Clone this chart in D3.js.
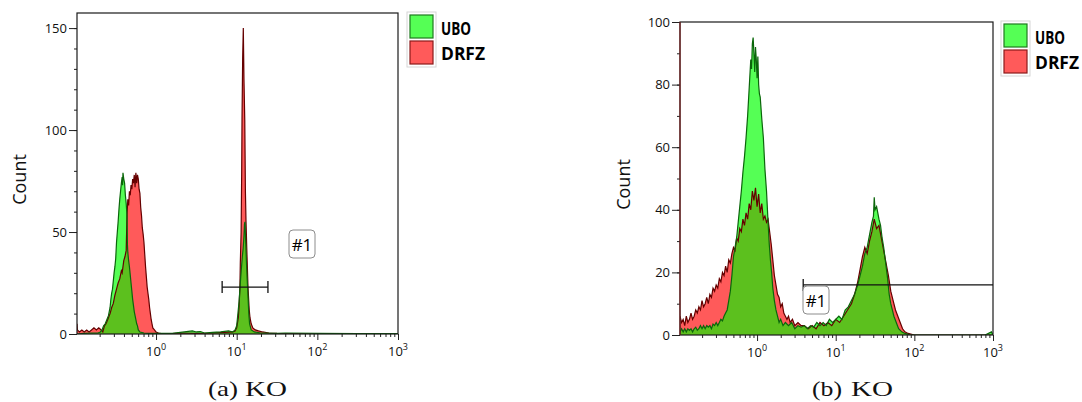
<!DOCTYPE html>
<html>
<head>
<meta charset="utf-8">
<script src="https://cdn.jsdelivr.net/npm/d3@7"></script>
<style>
  body { margin: 0; background: #fff; }
  svg { display: block; }
</style>
</head>
<body>
<div id="chart"></div>
<script>
// histogram bins: [log10 intensity, count]
const ubo_a = [
  [-0.98, 0], [-0.9, 0.3], [-0.8, 0.5], [-0.72, 0.5], [-0.69, 1], [-0.67, 2], [-0.65, 4], [-0.63, 5],
  [-0.61, 7], [-0.59, 9], [-0.57, 13], [-0.56, 17], [-0.55, 20], [-0.54, 22], [-0.53, 26], [-0.52, 30],
  [-0.51, 33], [-0.50, 37], [-0.49, 45], [-0.48, 50], [-0.47, 55], [-0.46, 61], [-0.45, 66], [-0.44, 70],
  [-0.43, 74], [-0.42, 77], [-0.415, 73], [-0.41, 79], [-0.40, 76], [-0.39, 74], [-0.38, 68], [-0.37, 64],
  [-0.36, 58], [-0.355, 44], [-0.35, 40], [-0.34, 36], [-0.33, 33], [-0.32, 29], [-0.31, 25], [-0.30, 21],
  [-0.29, 17], [-0.28, 14], [-0.27, 11], [-0.26, 9], [-0.25, 7], [-0.24, 5], [-0.23, 4], [-0.22, 2],
  [-0.20, 1], [-0.15, 0.5], [-0.1, 0.3], [0.0, 0.3], [0.2, 0.3], [0.45, 1.5], [0.5, 1], [0.55, 1.2],
  [0.6, 0.5], [0.7, 0.8], [0.8, 1], [0.9, 1.5], [0.95, 1], [0.98, 2], [1.0, 4], [1.01, 8], [1.02, 12],
  [1.03, 16], [1.04, 22], [1.05, 28], [1.06, 33], [1.07, 38], [1.08, 42], [1.09, 48], [1.097, 54],
  [1.103, 55], [1.11, 47], [1.12, 36], [1.13, 27], [1.14, 19], [1.15, 10], [1.16, 5], [1.18, 2],
  [1.22, 1], [1.3, 0.5], [1.35, 0.5], [1.5, 0.3], [1.6, 0.5], [2.0, 0.3], [2.5, 0.2], [3.0, 0.2]
];
const drfz_a = [
  [-0.98, 5], [-0.975, 2], [-0.95, 1], [-0.92, 2], [-0.89, 1], [-0.86, 2], [-0.83, 1], [-0.80, 2],
  [-0.77, 3], [-0.74, 2], [-0.71, 3], [-0.68, 2], [-0.66, 1], [-0.64, 4], [-0.62, 5], [-0.60, 7],
  [-0.58, 9], [-0.57, 10], [-0.55, 13], [-0.53, 15], [-0.51, 19], [-0.49, 22], [-0.47, 25], [-0.45, 27],
  [-0.43, 31], [-0.42, 30], [-0.40, 36], [-0.385, 38], [-0.37, 41], [-0.36, 58], [-0.35, 66], [-0.34, 63],
  [-0.33, 70], [-0.32, 68], [-0.31, 73], [-0.30, 71], [-0.29, 76], [-0.28, 74], [-0.27, 78], [-0.26, 72],
  [-0.25, 79], [-0.24, 74], [-0.23, 78], [-0.22, 76], [-0.21, 71], [-0.20, 69], [-0.19, 62], [-0.18, 58],
  [-0.17, 52], [-0.16, 49], [-0.15, 45], [-0.14, 39], [-0.13, 33], [-0.12, 28], [-0.11, 23], [-0.10, 20],
  [-0.09, 17], [-0.08, 13], [-0.07, 10], [-0.06, 7], [-0.05, 5], [-0.04, 3], [-0.02, 2], [0.0, 1],
  [0.03, 0.5], [0.1, 0], [0.3, 0.5], [0.5, 0.3], [0.7, 0.5], [0.85, 0.8], [0.95, 1], [0.98, 1.5],
  [1.0, 3], [1.02, 8], [1.03, 14], [1.04, 23], [1.045, 35], [1.055, 50], [1.062, 80], [1.066, 105],
  [1.074, 135], [1.082, 150], [1.09, 125], [1.10, 105], [1.108, 70], [1.115, 56], [1.125, 42], [1.14, 23],
  [1.155, 12], [1.165, 8], [1.18, 5], [1.2, 3], [1.23, 2], [1.27, 1.5], [1.32, 1], [1.4, 0.5],
  [1.5, 0.3], [1.7, 0.2], [2.0, 0], [3.0, 0]
];
const ubo_b = [
  [-0.98, 1], [-0.96, 2], [-0.94, 1], [-0.92, 2], [-0.90, 1], [-0.88, 2], [-0.86, 1.5], [-0.84, 2],
  [-0.82, 1], [-0.80, 2], [-0.78, 2.5], [-0.76, 1.5], [-0.74, 2], [-0.72, 3], [-0.70, 2], [-0.68, 3],
  [-0.66, 2], [-0.64, 3], [-0.62, 2.5], [-0.60, 3], [-0.58, 2], [-0.56, 3.5], [-0.54, 3], [-0.52, 4],
  [-0.50, 3], [-0.48, 4], [-0.46, 5], [-0.44, 4.5], [-0.42, 6], [-0.40, 7], [-0.38, 8], [-0.36, 11],
  [-0.34, 14], [-0.32, 19], [-0.30, 25], [-0.28, 28], [-0.26, 31], [-0.24, 36], [-0.22, 41], [-0.20, 46],
  [-0.18, 52], [-0.16, 57], [-0.14, 63], [-0.12, 70], [-0.10, 79], [-0.08, 88], [-0.07, 85], [-0.06, 93],
  [-0.05, 95], [-0.04, 90], [-0.03, 84], [-0.02, 92], [-0.01, 88], [0.0, 82], [0.01, 89], [0.02, 80],
  [0.03, 77], [0.04, 76], [0.06, 69], [0.08, 63], [0.10, 53], [0.12, 46], [0.14, 36], [0.155, 29],
  [0.17, 24], [0.185, 20], [0.20, 15], [0.22, 11], [0.24, 8], [0.26, 6], [0.28, 4], [0.30, 5],
  [0.33, 3], [0.36, 4], [0.40, 3], [0.44, 4], [0.48, 2], [0.52, 3], [0.56, 2.5], [0.60, 3],
  [0.64, 2], [0.68, 3], [0.72, 2.5], [0.76, 4], [0.80, 3], [0.84, 4], [0.88, 3], [0.92, 5],
  [0.96, 4], [1.00, 5], [1.04, 6], [1.08, 5], [1.12, 8], [1.16, 9], [1.20, 11], [1.24, 13],
  [1.28, 16], [1.31, 19], [1.34, 22], [1.37, 26], [1.40, 28], [1.43, 32], [1.46, 36], [1.48, 38],
  [1.49, 44], [1.50, 40], [1.52, 41], [1.55, 37], [1.57, 35], [1.59, 31], [1.61, 28], [1.63, 24],
  [1.66, 18], [1.68, 13], [1.70, 10], [1.72, 8], [1.74, 6], [1.77, 4], [1.80, 2], [1.84, 1],
  [1.88, 0.5], [1.95, 0], [2.9, 0], [2.98, 1], [3.0, 0]
];
const drfz_b = [
  [-0.98, 6], [-0.96, 4], [-0.94, 5], [-0.92, 3], [-0.90, 6], [-0.88, 4], [-0.86, 5], [-0.84, 7],
  [-0.82, 5], [-0.80, 6], [-0.78, 8], [-0.76, 7], [-0.74, 9], [-0.72, 8], [-0.70, 11], [-0.68, 9],
  [-0.66, 10], [-0.64, 12], [-0.62, 10], [-0.60, 13], [-0.58, 12], [-0.56, 15], [-0.54, 14], [-0.52, 16],
  [-0.50, 15], [-0.48, 18], [-0.46, 17], [-0.44, 20], [-0.42, 19], [-0.40, 22], [-0.38, 20], [-0.36, 24],
  [-0.34, 23], [-0.32, 26], [-0.30, 28], [-0.28, 27], [-0.26, 31], [-0.24, 30], [-0.22, 34], [-0.20, 33],
  [-0.18, 37], [-0.16, 35], [-0.14, 39], [-0.12, 37], [-0.10, 42], [-0.08, 40], [-0.06, 46], [-0.04, 43],
  [-0.02, 47], [0.0, 41], [0.02, 45], [0.04, 39], [0.06, 42], [0.08, 37], [0.10, 38], [0.12, 36],
  [0.14, 37], [0.16, 33], [0.18, 29], [0.20, 24], [0.22, 19], [0.24, 16], [0.26, 13], [0.28, 12],
  [0.30, 9], [0.32, 10], [0.34, 7], [0.36, 6], [0.38, 5], [0.40, 6], [0.42, 4], [0.45, 5],
  [0.48, 3], [0.52, 4], [0.56, 3], [0.60, 3], [0.65, 2], [0.70, 3], [0.75, 2], [0.80, 4],
  [0.85, 3], [0.90, 4], [0.95, 3], [1.00, 5], [1.05, 4], [1.10, 6], [1.15, 8], [1.20, 10],
  [1.24, 13], [1.28, 17], [1.31, 21], [1.34, 25], [1.37, 28], [1.40, 26], [1.43, 30], [1.46, 33],
  [1.49, 37], [1.52, 34], [1.55, 35], [1.58, 31], [1.61, 27], [1.64, 23], [1.67, 19], [1.70, 14],
  [1.73, 11], [1.76, 8], [1.79, 6], [1.82, 4], [1.85, 2], [1.88, 1], [1.92, 0.5], [2.0, 0], [3.0, 0]
];

const seriesNames = ["UBO", "DRFZ"];
const decadeExponents = [0, 1, 2, 3];       // x tick labels 10^n
const yMajorA = [0, 50, 100, 150];
const yMajorB = [0, 20, 40, 60, 80, 100];
const gateA = [6.6, 24.4, 23];              // [from, to, count level]
const gateB = [3.86, 1000, 16];
const gateLabel = "#1";
const captionTags = ["(a)", "(b)"];
const captionText = "KO";

const W = 1082, H = 402;
const XMIN = Math.pow(10, -0.98), XMAX = 1000;

const FILL_GREEN = "#55ff55", FILL_RED = "#ff5a5a", FILL_BOTH = "#5cc01e";
const LINE_GREEN = "#0b660b", LINE_RED = "#650000";

var svg = d3.select("#chart").append("svg")
  .attr("width", W)
  .attr("height", H);

function drawPanel(cfg) {
  const x = d3.scaleLog().domain([XMIN, XMAX]).range([cfg.left, cfg.right]);
  const y = d3.scaleLinear().domain([0, cfg.yMax]).range([cfg.bottom, cfg.top]);
  const g = svg.append("g");

  // clip to the plot box
  g.append("clipPath").attr("id", "box" + cfg.id)
    .append("rect")
      .attr("x", cfg.left).attr("y", cfg.top)
      .attr("width", cfg.right - cfg.left).attr("height", cfg.bottom - cfg.top);

  const area = d3.area()
    .x(d => x(Math.pow(10, d[0])))
    .y0(y(0))
    .y1(d => y(d[1]));
  const line = d3.line()
    .x(d => x(Math.pow(10, d[0])))
    .y(d => y(d[1]));

  // red area used as clip for the overlap colour
  g.append("clipPath").attr("id", "red" + cfg.id)
    .append("path").attr("d", area(cfg.red));

  const plot = g.append("g").attr("clip-path", "url(#box" + cfg.id + ")");
  plot.append("path").attr("d", area(cfg.red)).attr("fill", FILL_RED);
  plot.append("path").attr("d", area(cfg.green)).attr("fill", FILL_GREEN);
  plot.append("path").attr("d", area(cfg.green)).attr("fill", FILL_BOTH)
    .attr("clip-path", "url(#red" + cfg.id + ")"); // overlap = min of both
  plot.append("path").attr("d", line(cfg.red))
    .attr("fill", "none").attr("stroke", LINE_RED).attr("stroke-width", 1.2);
  plot.append("path").attr("d", line(cfg.green))
    .attr("fill", "none").attr("stroke", LINE_GREEN).attr("stroke-width", 1.2);

  // y axis ticks: labelled majors + minor every 10
  const yAxis = g.append("g").attr("transform", "translate(" + cfg.left + ",0)");
  yAxis.call(d3.axisLeft(y).tickValues(d3.range(0, cfg.yMax + 0.1, 10)).tickSize(3).tickFormat(""))
    .call(a => a.select(".domain").remove());
  yAxis.append("g")
    .call(d3.axisLeft(y).tickValues(cfg.yMajor).tickSize(8).tickPadding(2))
    .call(a => a.select(".domain").remove())
    .selectAll("text")
      .attr("font-family", "'Open Sans', sans-serif")
      .attr("font-size", 13)
      .attr("fill", "#111");
  yAxis.selectAll("line").attr("stroke", "#222");

  // x axis: minor 2..9 in each decade, majors at decades
  const minors = [];
  for (let e = -1; e < 3; e++) for (let k = 2; k <= 9; k++) {
    const v = k * Math.pow(10, e);
    if (v > XMIN) minors.push(v);
  }
  const xAxis = g.append("g").attr("transform", "translate(0," + cfg.bottom + ")");
  xAxis.call(d3.axisBottom(x).tickValues(minors).tickSize(3).tickFormat(""))
    .call(a => a.select(".domain").remove());
  xAxis.append("g")
    .call(d3.axisBottom(x).tickValues(decadeExponents.map(e => Math.pow(10, e))).tickSize(6).tickFormat(""))
    .call(a => a.select(".domain").remove());
  xAxis.selectAll("line").attr("stroke", "#222");

  const lbl = g.append("g").selectAll("text")
    .data(decadeExponents)
    .join("text")
      .attr("x", d => x(Math.pow(10, d)))
      .attr("y", cfg.bottom + 22)
      .attr("text-anchor", "middle")
      .attr("font-family", "'Open Sans', sans-serif")
      .attr("font-size", 13)
      .attr("fill", "#111");
  lbl.append("tspan").text("10");
  lbl.append("tspan").attr("dy", -6).attr("font-size", 9).text(d => d);

  // frame
  g.append("rect")
    .attr("x", cfg.left).attr("y", cfg.top)
    .attr("width", cfg.right - cfg.left).attr("height", cfg.bottom - cfg.top)
    .attr("fill", "none").attr("stroke", "#1a1a1a").attr("stroke-width", 1.2);
  if (cfg.leftEdge) {
    g.append("line")
      .attr("x1", cfg.left).attr("x2", cfg.left)
      .attr("y1", cfg.top).attr("y2", cfg.bottom)
      .attr("stroke", cfg.leftEdge).attr("stroke-width", 1.2);
  }

  // y label
  g.append("text")
    .attr("transform", "translate(" + cfg.yLabelX + "," + ((cfg.top + cfg.bottom) / 2 + 6) + ") rotate(-90)")
    .attr("text-anchor", "middle")
    .attr("font-family", "'Open Sans', sans-serif")
    .attr("font-size", 18)
    .attr("fill", "#111")
    .text("Count");

  // gate
  const gate = cfg.gate;
  const gy = y(gate[2]);
  const gx0 = x(gate[0]), gx1 = x(gate[1]);
  g.append("line").attr("x1", gx0).attr("x2", gx1).attr("y1", gy).attr("y2", gy)
    .attr("stroke", "#111").attr("stroke-width", 1.3);
  g.append("line").attr("x1", gx0).attr("x2", gx0).attr("y1", gy - 6).attr("y2", gy + 6)
    .attr("stroke", "#111").attr("stroke-width", 1.3);
  if (cfg.gateBothEnds) {
    g.append("line").attr("x1", gx1).attr("x2", gx1).attr("y1", gy - 6).attr("y2", gy + 6)
      .attr("stroke", "#111").attr("stroke-width", 1.3);
  }
  g.append("rect")
    .attr("x", cfg.gateBox[0]).attr("y", cfg.gateBox[1])
    .attr("width", 26).attr("height", 28).attr("rx", 4)
    .attr("fill", "#fff").attr("stroke", "#8c8c8c").attr("stroke-width", 1);
  g.append("text")
    .attr("x", cfg.gateBox[0] + 13).attr("y", cfg.gateBox[1] + 21)
    .attr("text-anchor", "middle")
    .attr("font-family", "'Open Sans', sans-serif")
    .attr("font-size", 17)
    .attr("fill", "#000")
    .text(gateLabel);

  // legend
  const lg = g.append("g").attr("transform", "translate(" + cfg.legend[0] + "," + cfg.legend[1] + ")");
  lg.append("rect").attr("x", 0).attr("y", 0).attr("width", 29).attr("height", 55)
    .attr("fill", "#fff").attr("stroke", "#d6d6d6").attr("stroke-width", 1);
  const sw = [[FILL_GREEN, "#1e7a1e"], [FILL_RED, "#8b1a1a"]];
  seriesNames.forEach((name, i) => {
    lg.append("rect").attr("x", 3).attr("y", 3 + i * 26).attr("width", 23).attr("height", 23)
      .attr("fill", sw[i][0]).attr("stroke", sw[i][1]).attr("stroke-width", 1.2);
    lg.append("text").attr("x", 34).attr("y", 23 + i * 25)
      .attr("font-family", "'Open Sans', sans-serif")
      .attr("font-weight", "bold")
      .attr("font-size", 18)
      .attr("textLength", i === 0 ? 30 : 44)
      .attr("lengthAdjust", "spacingAndGlyphs")
      .attr("fill", "#000")
      .text(name);
  });

  // caption
  const cap = g.append("g")
    .attr("font-family", "'Liberation Serif', 'DejaVu Serif', serif")
    .attr("font-size", 21)
    .attr("fill", "#111");
  cap.append("text").attr("x", cfg.caption[0]).attr("y", 396)
    .attr("textLength", 30).attr("lengthAdjust", "spacingAndGlyphs").text(cfg.tag);
  cap.append("text").attr("x", cfg.caption[1]).attr("y", 396)
    .attr("textLength", 42).attr("lengthAdjust", "spacingAndGlyphs").text(captionText);
}

drawPanel({
  id: "A", left: 77, right: 398, top: 13, bottom: 334, yMax: 157.4,
  yMajor: yMajorA, green: ubo_a, red: drfz_a,
  gate: gateA, gateBothEnds: true, gateBox: [289, 230],
  legend: [407, 12], yLabelX: 26, caption: [208, 245], tag: captionTags[0]
});
drawPanel({
  id: "B", left: 680, right: 993, top: 22, bottom: 335, yMax: 100,
  yMajor: yMajorB, green: ubo_b, red: drfz_b, leftEdge: "#7a2323",
  gate: gateB, gateBothEnds: false, gateBox: [803, 286],
  legend: [1001, 21], yLabelX: 630, caption: [812, 851], tag: captionTags[1]
});
</script>
</body>
</html>
